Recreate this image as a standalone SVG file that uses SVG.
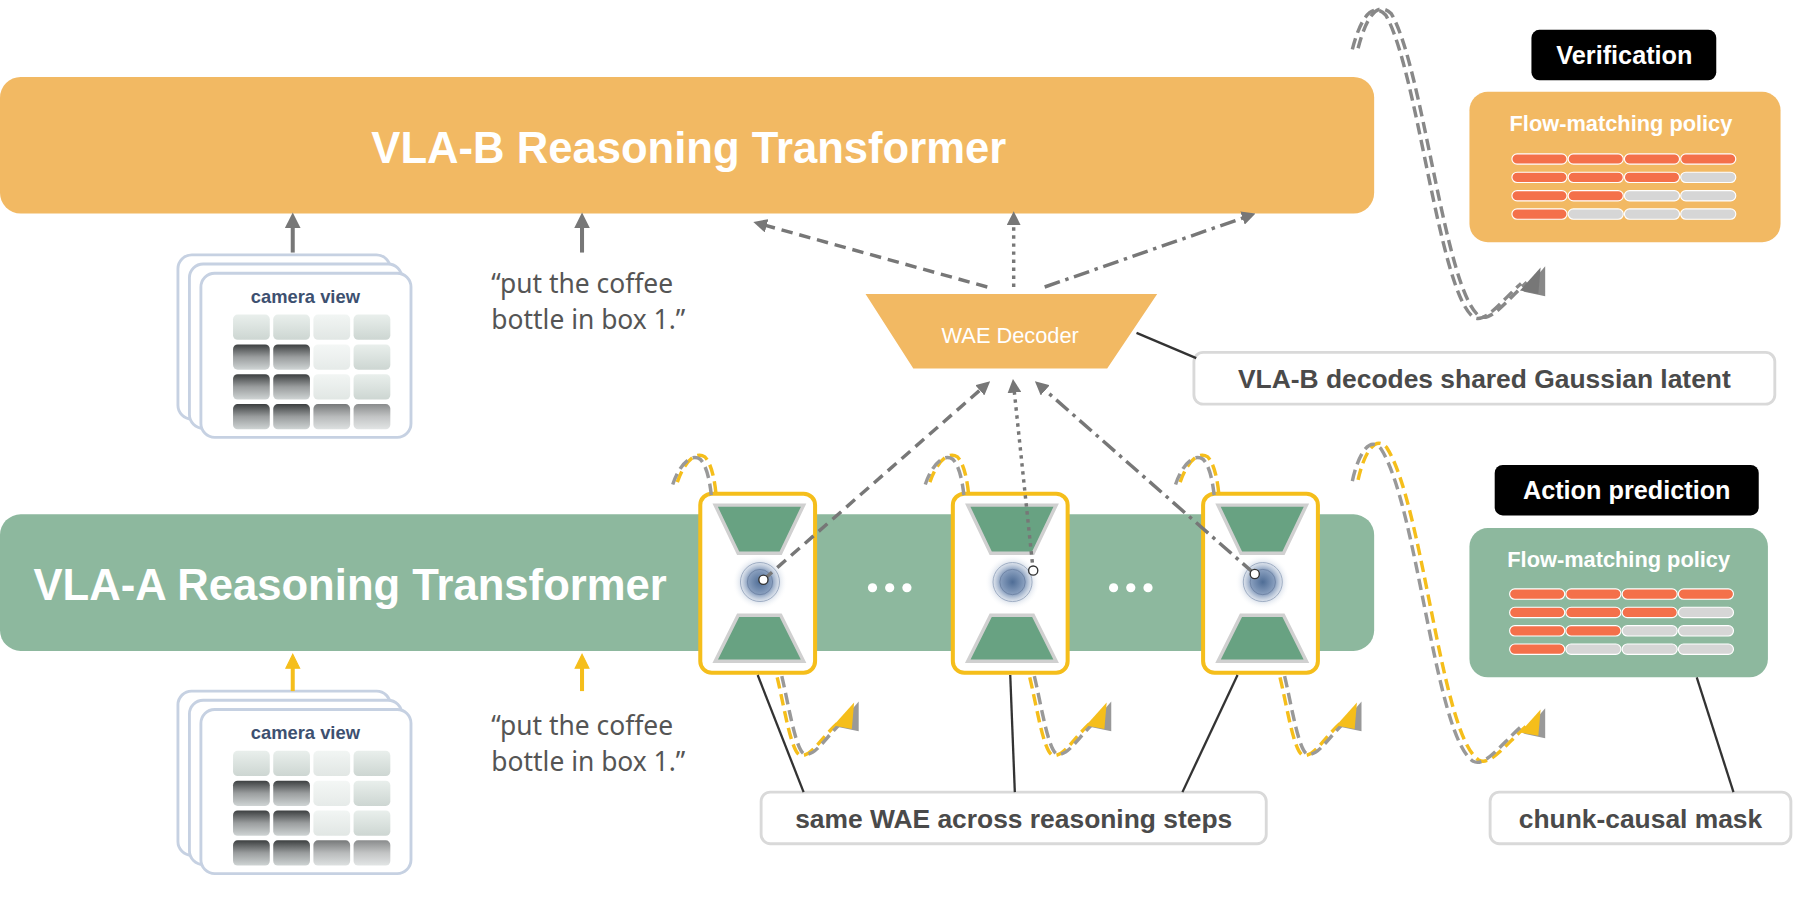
<svg xmlns="http://www.w3.org/2000/svg" xmlns:xlink="http://www.w3.org/1999/xlink" width="1800" height="899" viewBox="0 0 1800 899">
<defs>
<style>
.t{font-family:"Liberation Sans",Arial,sans-serif;font-weight:bold}
.q{font-family:"Noto Sans","DejaVu Sans",sans-serif;font-size:23px;fill:#555}
.lbl{fill:#fff;stroke:#d9d9d9;stroke-width:2.5}
.lt{font-family:"Liberation Sans",Arial,sans-serif;font-weight:bold;font-size:23px;fill:#4a4a4a}
.wae{fill:#fff;stroke:#F5BE1B;stroke-width:3.5}
.trap{fill:#68A282;stroke:#d0d0d0;stroke-width:3}
.g{stroke:#777;stroke-width:3;fill:none}
.red{fill:#F4704A;stroke:#fff;stroke-width:1}
.gry{fill:#d6d6d6;stroke:#fff;stroke-width:1}
.card{fill:#fff;stroke:#c6d1e2;stroke-width:2.5}
.tile{fill:url(#tl)}
.tiled{fill:url(#td)}
</style>
<radialGradient id="blob"><stop offset="0" stop-color="#4f6d96"/><stop offset="0.45" stop-color="#8aa0bf"/><stop offset="1" stop-color="#fff" stop-opacity="0"/></radialGradient>
<linearGradient id="tl" x1="0" y1="0" x2="0" y2="1"><stop offset="0" stop-color="#e9efec"/><stop offset="1" stop-color="#cdd6d2"/></linearGradient>
<linearGradient id="td" x1="0" y1="0" x2="0" y2="1"><stop offset="0" stop-color="#3c3f40"/><stop offset="0.5" stop-color="#9a9d9e"/><stop offset="1" stop-color="#cfd4d4"/></linearGradient>
<marker id="ah" viewBox="0 0 10 10" refX="5" refY="5" markerWidth="4" markerHeight="4" orient="auto"><path d="M0,0L10,5L0,10z" fill="#777"/></marker>
<g id="cam">
<rect class="card" x="155" y="222" width="185" height="143" rx="12" stroke="#e6ebf3"/>
<rect class="card" x="165" y="230" width="185" height="143" rx="12" stroke="#dbe2ee"/>
<rect class="card" x="175" y="238" width="183" height="143" rx="12"/>
<text x="266" y="264" text-anchor="middle" class="t" font-size="16" fill="#3d5070">camera view</text>
<rect class="tile" x="203" y="274" width="32" height="22" rx="4"/><rect class="tile" x="238" y="274" width="32" height="22" rx="4"/><rect class="tile" x="273" y="274" width="32" height="22" rx="4" opacity="0.6"/><rect class="tile" x="308" y="274" width="32" height="22" rx="4"/>
<rect class="tiled" x="203" y="300" width="32" height="22" rx="4"/><rect class="tiled" x="238" y="300" width="32" height="22" rx="4"/><rect class="tile" x="273" y="300" width="32" height="22" rx="4" opacity="0.5"/><rect class="tile" x="308" y="300" width="32" height="22" rx="4"/>
<rect class="tiled" x="203" y="326" width="32" height="22" rx="4"/><rect class="tiled" x="238" y="326" width="32" height="22" rx="4"/><rect class="tile" x="273" y="326" width="32" height="22" rx="4" opacity="0.6"/><rect class="tile" x="308" y="326" width="32" height="22" rx="4"/>
<rect class="tiled" x="203" y="352" width="32" height="22" rx="4"/><rect class="tiled" x="238" y="352" width="32" height="22" rx="4"/><rect class="tiled" x="273" y="352" width="32" height="22" rx="4" opacity="0.7"/><rect class="tiled" x="308" y="352" width="32" height="22" rx="4" opacity="0.6"/>
</g>
<g id="waeb">
<rect class="wae" x="0" y="0" width="100" height="156" rx="10"/>
<polygon class="trap" points="13,10 90,10 70,52 33,52"/>
<polygon class="trap" points="33,106 70,106 90,146 13,146"/>
<circle cx="52" cy="77" r="24" fill="url(#blob)"/>
<circle cx="52" cy="77" r="17" fill="none" stroke="#9aa9c0" stroke-width="0.8"/>
<circle cx="52" cy="77" r="11" fill="none" stroke="#6f84a5" stroke-width="0.8"/>
</g>
<g id="bars">
<rect class="red" x="0" y="0" width="48" height="9" rx="4.5"/><rect class="red" x="49" y="0" width="48" height="9" rx="4.5"/><rect class="red" x="98" y="0" width="48" height="9" rx="4.5"/><rect class="red" x="147" y="0" width="48" height="9" rx="4.5"/>
<rect class="red" x="0" y="16" width="48" height="9" rx="4.5"/><rect class="red" x="49" y="16" width="48" height="9" rx="4.5"/><rect class="red" x="98" y="16" width="48" height="9" rx="4.5"/><rect class="gry" x="147" y="16" width="48" height="9" rx="4.5"/>
<rect class="red" x="0" y="32" width="48" height="9" rx="4.5"/><rect class="red" x="49" y="32" width="48" height="9" rx="4.5"/><rect class="gry" x="98" y="32" width="48" height="9" rx="4.5"/><rect class="gry" x="147" y="32" width="48" height="9" rx="4.5"/>
<rect class="red" x="0" y="48" width="48" height="9" rx="4.5"/><rect class="gry" x="49" y="48" width="48" height="9" rx="4.5"/><rect class="gry" x="98" y="48" width="48" height="9" rx="4.5"/><rect class="gry" x="147" y="48" width="48" height="9" rx="4.5"/>
</g>
<path id="sq1" d="M1183,42 C1190,15 1200,0 1212,12 C1240,60 1258,250 1288,275 C1298,282 1312,262 1330,246"/>
<path id="sqa" d="M0,0 C5,-15 15,-28 24,-22 C30,-16 33,0 34,14"/>
<path id="sqb" d="M0,0 C6,25 12,65 20,68 C30,70 40,50 55,38"/>
<path id="sq2" d="M1183,418 C1188,395 1198,378 1208,390 C1240,440 1255,640 1288,662 C1298,668 1312,648 1330,632"/>
</defs>
<rect width="1800" height="899" fill="#fff"/>
<g transform="scale(1.148)">
<g id="vlab"><rect x="0" y="67" width="1197" height="119" rx="18" fill="#F2B963"/><text x="600" y="142" text-anchor="middle" class="t" font-size="38" fill="#fff">VLA-B Reasoning Transformer</text></g>
<g id="vlaa"><rect x="0" y="448" width="1197" height="119" rx="18" fill="#8DB89E"/><text x="305" y="523" text-anchor="middle" class="t" font-size="38" fill="#fff">VLA-A Reasoning Transformer</text>
<g fill="#fff"><circle cx="760" cy="512" r="4"/><circle cx="775" cy="512" r="4"/><circle cx="790" cy="512" r="4"/><circle cx="970" cy="512" r="4"/><circle cx="985" cy="512" r="4"/><circle cx="1000" cy="512" r="4"/></g></g>
<g id="camB"><use href="#cam"/></g>
<g id="camA"><use href="#cam" transform="translate(0,380)"/></g>
<g id="textB"><text class="q" x="428" y="255">“put the coffee</text><text class="q" x="428" y="287">bottle in box 1.”</text></g>
<g id="textA"><text class="q" x="428" y="640">“put the coffee</text><text class="q" x="428" y="672">bottle in box 1.”</text></g>
<g id="wae1"><use href="#waeb" transform="translate(610,430)"/></g>
<g id="wae2"><use href="#waeb" transform="translate(830,430)"/></g>
<g id="wae3"><use href="#waeb" transform="translate(1048,430)"/></g>
<g id="decoder"><polygon points="752,255 1010,255 965,322 795,322" fill="#F2B963" stroke="#fff" stroke-width="2"/><text x="880" y="299" text-anchor="middle" class="t" font-size="19" font-weight="normal" fill="#fff" style="font-weight:normal">WAE Decoder</text></g>
<g id="lbl1"><rect class="lbl" x="1040" y="307" width="506" height="45" rx="8"/><text class="lt" x="1293" y="338" text-anchor="middle">VLA-B decodes shared Gaussian latent</text></g>
<g id="lbl2"><rect class="lbl" x="663" y="690" width="440" height="45" rx="8"/><text class="lt" x="883" y="721" text-anchor="middle">same WAE across reasoning steps</text></g>
<g id="lbl3"><rect class="lbl" x="1298" y="690" width="262" height="45" rx="8"/><text class="lt" x="1429" y="721" text-anchor="middle">chunk-causal mask</text></g>
<g id="verif"><rect x="1334" y="26" width="161" height="44" rx="7" fill="#000"/><text x="1415" y="56" text-anchor="middle" class="t" font-size="22" fill="#fff">Verification</text>
<rect x="1280" y="80" width="271" height="131" rx="16" fill="#F2B963"/><text x="1412" y="114" text-anchor="middle" class="t" font-size="19" fill="#fff">Flow-matching policy</text><use href="#bars" transform="translate(1317,134)"/></g>
<g id="actpred"><rect x="1302" y="405" width="230" height="44" rx="7" fill="#000"/><text x="1417" y="435" text-anchor="middle" class="t" font-size="22" fill="#fff">Action prediction</text>
<rect x="1280" y="460" width="260" height="130" rx="16" fill="#8DB89E"/><text x="1410" y="494" text-anchor="middle" class="t" font-size="19" fill="#fff">Flow-matching policy</text><use href="#bars" transform="translate(1315,513)"/></g>
<g id="connectors">
<g stroke="#333" stroke-width="2" fill="none"><path d="M990,290L1042,312"/><path d="M660,588L700,690"/><path d="M880,588L884,690"/><path d="M1078,588L1030,690"/><path d="M1478,590L1510,690"/></g>
<g stroke="#777" stroke-width="3.5" marker-end="url(#ah)"><path d="M255,220V192"/><path d="M507,220V192"/></g>
<g stroke="#F5BE1B" stroke-width="3.5" fill="#F5BE1B"><path d="M255,602V580"/><path d="M507,602V580"/><path d="M249,582L255,570L261,582z" stroke-width="1"/><path d="M501,582L507,570L513,582z" stroke-width="1"/></g>
<g class="g" marker-end="url(#ah)">
<path d="M860,250L662,195" stroke-dasharray="10,6"/>
<path d="M883,250V190" stroke-dasharray="3,4"/>
<path d="M910,250L1088,188" stroke-dasharray="14,5,3,5"/>
<path d="M665,505L858,336" stroke-dasharray="10,6"/>
<path d="M900,497L883,336" stroke-dasharray="3,4"/>
<path d="M1093,500L906,336" stroke-dasharray="14,5,3,5"/>
</g>
<g fill="#fff" stroke="#333" stroke-width="1.2"><circle cx="665" cy="505" r="4"/><circle cx="900" cy="497" r="4"/><circle cx="1093" cy="500" r="4"/></g>
<g fill="none" stroke-width="3" stroke-dasharray="10,5">
<use href="#sq1" stroke="#888"/><use href="#sq1" stroke="#888" transform="translate(-5,1)"/>
<use href="#sq2" stroke="#F5BE1B"/><use href="#sq2" stroke="#999" transform="translate(-5,1)"/>
<g transform="translate(590,420)"><use href="#sqa" stroke="#F5BE1B"/><use href="#sqa" stroke="#999" transform="translate(-4,2)"/></g>
<g transform="translate(810,420)"><use href="#sqa" stroke="#F5BE1B"/><use href="#sqa" stroke="#999" transform="translate(-4,2)"/></g>
<g transform="translate(1028,420)"><use href="#sqa" stroke="#F5BE1B"/><use href="#sqa" stroke="#999" transform="translate(-4,2)"/></g>
<g transform="translate(677,590)"><use href="#sqb" stroke="#F5BE1B"/><use href="#sqb" stroke="#999" transform="translate(4,-1)"/></g>
<g transform="translate(897,590)"><use href="#sqb" stroke="#F5BE1B"/><use href="#sqb" stroke="#999" transform="translate(4,-1)"/></g>
<g transform="translate(1115,590)"><use href="#sqb" stroke="#F5BE1B"/><use href="#sqb" stroke="#999" transform="translate(4,-1)"/></g>
</g>
<g stroke="none">
<path d="M1346,232L1327,254L1346,258z" fill="#888"/><path d="M1342,233L1324,253L1340,256z" fill="#777"/>
<path d="M1346,617L1327,639L1346,643z" fill="#999"/><path d="M1342,618L1324,638L1340,641z" fill="#F5BE1B"/>
<path d="M748,611L729,633L748,637z" fill="#999"/><path d="M744,612L726,632L742,635z" fill="#F5BE1B"/>
<path d="M968,611L949,633L968,637z" fill="#999"/><path d="M964,612L946,632L962,635z" fill="#F5BE1B"/>
<path d="M1186,611L1167,633L1186,637z" fill="#999"/><path d="M1182,612L1164,632L1180,635z" fill="#F5BE1B"/>
</g>
</g>
</g>
</svg>
